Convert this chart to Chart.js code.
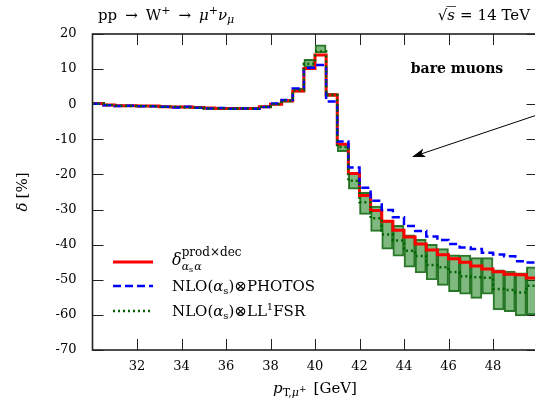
<!DOCTYPE html>
<html>
<head>
<meta charset="utf-8">
<script src="https://cdn.jsdelivr.net/npm/chart.js@4"></script>
<style>
  html, body { margin: 0; padding: 0; background: #fff; overflow: hidden; }
  #wrap { width: 535px; height: 406px; overflow: hidden; }
</style>
</head>
<body>
<div id="wrap"><canvas id="chart" width="545" height="406"></canvas></div>
<script>
// bin lower edges, p_T in GeV (bins are 0.5 GeV wide, last bin ends at 50)
const binLow = [30, 30.5, 31, 31.5, 32, 32.5, 33, 33.5, 34, 34.5,
                35, 35.5, 36, 36.5, 37, 37.5, 38, 38.5, 39, 39.5,
                40, 40.5, 41, 41.5, 42, 42.5, 43, 43.5, 44, 44.5,
                45, 45.5, 46, 46.5, 47, 47.5, 48, 48.5, 49, 49.5];
const binEnd = 50;

// delta_{as a}^{prod x dec}  (red)
const redVals = [0.2, -0.2, -0.4, -0.4, -0.5, -0.5, -0.7, -0.8, -0.8, -0.9,
                 -1.1, -1.2, -1.2, -1.2, -1.2, -0.7, 0.0, 1.0, 3.8, 10.2,
                 14.0, 2.6, -11.4, -19.7, -26.0, -30.3, -33.3, -35.9, -37.8, -39.8,
                 -41.5, -42.9, -44.0, -45.0, -46.1, -46.9, -47.7, -48.4, -48.6, -49.5];
// NLO(as) x PHOTOS  (blue dashed)
const blueVals = [0.1, -0.3, -0.5, -0.4, -0.6, -0.6, -0.7, -0.9, -0.7, -1.0,
                  -1.2, -1.1, -1.3, -1.2, -1.3, -0.8, 0.2, 1.2, 4.5, 10.4,
                  11.2, 0.8, -10.6, -18.0, -23.8, -27.5, -30.1, -32.2, -34.7, -36.1,
                  -37.7, -38.7, -39.8, -40.8, -41.2, -42.3, -42.8, -43.3, -44.7, -45.1];
// NLO(as) x LL^1 FSR  (green dotted) and its band
const greenVals = [0.2, -0.2, -0.4, -0.5, -0.5, -0.6, -0.7, -0.7, -0.9, -0.9,
                   -1.2, -1.2, -1.3, -1.2, -1.2, -0.7, 0.0, 1.0, 4.0, 11.5,
                   15.0, 2.6, -12.2, -21.8, -27.9, -32.5, -37.1, -38.8, -41.7, -43.2,
                   -45.8, -46.4, -47.8, -49.0, -49.3, -49.4, -52.6, -52.9, -53.6, -51.7];
const bandHi = [0.4, 0.0, -0.2, -0.3, -0.3, -0.4, -0.5, -0.5, -0.7, -0.7,
                -1.0, -1.0, -1.1, -1.0, -1.0, -0.5, 0.2, 1.3, 4.6, 12.8,
                16.9, 3.1, -11.1, -19.7, -25.1, -29.0, -33.2, -34.5, -37.2, -38.5,
                -39.9, -41.1, -42.9, -43.0, -43.7, -43.7, -47.2, -47.5, -48.0, -46.3];
const bandLo = [0.0, -0.4, -0.6, -0.7, -0.7, -0.8, -0.9, -0.9, -1.1, -1.1,
                -1.4, -1.4, -1.5, -1.4, -1.4, -0.9, -0.2, 0.5, 3.4, 10.5,
                14.6, 2.2, -13.5, -24.2, -31.4, -36.2, -41.3, -43.3, -46.4, -48.0,
                -50.0, -51.6, -53.4, -54.1, -55.3, -54.1, -58.6, -59.1, -60.3, -60.0];

const xTicks = [32, 34, 36, 38, 40, 42, 44, 46, 48];
const yTicks = [-70, -60, -50, -40, -30, -20, -10, 0, 10, 20];

const SERIF = '"DejaVu Serif", "Liberation Serif", serif';

// step line: one point per bin edge, last value repeated at the end
function stepData(vals) {
  const pts = binLow.map((x, i) => ({ x: x, y: vals[i] }));
  pts.push({ x: binEnd, y: vals[vals.length - 1] });
  return pts;
}
const bandData = binLow.map((x, i) => ({ x: x + 0.25, y: [bandLo[i], bandHi[i]] }));

function fontOf(r) {
  return (r.i ? 'italic ' : '') + (r.b ? 'bold ' : '') + (r.s || 15) + 'px ' + SERIF;
}
// draw a run of text pieces (for sub/superscripts)
function drawRuns(ctx, x, y, runs, align) {
  let w = 0;
  runs.forEach(r => { ctx.font = fontOf(r); w += ctx.measureText(r.t).width + (r.g || 0); });
  let cx = align === 'center' ? x - w / 2 : (align === 'right' ? x - w : x);
  ctx.textAlign = 'left';
  ctx.textBaseline = 'alphabetic';
  runs.forEach(r => {
    ctx.font = fontOf(r);
    ctx.fillText(r.t, cx, y + (r.dy || 0));
    cx += ctx.measureText(r.t).width + (r.g || 0);
  });
  return w;
}

const decor = {
  id: 'decor',
  beforeDatasetsDraw(chart) {
    const ctx = chart.ctx, a = chart.chartArea;
    const xs = chart.scales.x, ys = chart.scales.y;
    ctx.save();
    ctx.strokeStyle = '#222';
    ctx.lineWidth = 1;
    xTicks.forEach(v => {
      const px = Math.round(xs.getPixelForValue(v)) + 0.5;
      ctx.beginPath();
      ctx.moveTo(px, a.bottom); ctx.lineTo(px, a.bottom - 11);
      ctx.moveTo(px, a.top); ctx.lineTo(px, a.top + 11);
      ctx.stroke();
    });
    yTicks.forEach(v => {
      const py = Math.round(ys.getPixelForValue(v)) + 0.5;
      ctx.beginPath();
      ctx.moveTo(a.left, py); ctx.lineTo(a.left + 11, py);
      ctx.moveTo(a.right, py); ctx.lineTo(a.right - 11, py);
      ctx.stroke();
    });
    ctx.restore();
  },
  afterDraw(chart) {
    const ctx = chart.ctx, a = chart.chartArea;
    ctx.save();
    // frame
    ctx.strokeStyle = '#222';
    ctx.lineWidth = 1.6;
    ctx.strokeRect(a.left, a.top, a.right - a.left, a.bottom - a.top);

    ctx.fillStyle = '#000';
    // process label
    drawRuns(ctx, 98, 20, [
      { t: 'pp', g: 8 }, { t: '→', g: 8 }, { t: 'W' }, { t: '+', s: 11, dy: -6, g: 8 }, { t: '→', g: 8 },
      { t: 'μ', i: true }, { t: '+', s: 11, dy: -6 }, { t: 'ν', i: true }, { t: 'μ', i: true, s: 11, dy: 3 }
    ], 'left');
    // sqrt(s) = 14 TeV
    const w = drawRuns(ctx, 530, 20, [
      { t: '√' }, { t: 's', i: true, g: 5 }, { t: '=', g: 5 }, { t: '14 TeV' }
    ], 'right');
    ctx.font = fontOf({});
    const rootW = ctx.measureText('√').width;
    ctx.font = fontOf({ i: true });
    const sW = ctx.measureText('s').width;
    ctx.lineWidth = 0.8;
    ctx.beginPath();
    ctx.moveTo(530 - w + rootW - 1, 6.5); ctx.lineTo(530 - w + rootW + sW + 1, 6.5);
    ctx.stroke();

    // "bare muons"
    drawRuns(ctx, 457, 73, [{ t: 'bare muons', b: true, s: 14 }], 'center');

    // arrow
    ctx.strokeStyle = '#000';
    ctx.lineWidth = 1;
    const x0 = 540, y0 = 114, x1 = 412, y1 = 157;
    ctx.beginPath(); ctx.moveTo(x0, y0); ctx.lineTo(x1 + 8, y1 - 2.7); ctx.stroke();
    const ang = Math.atan2(y1 - y0, x1 - x0);
    ctx.beginPath();
    ctx.moveTo(x1, y1);
    ctx.lineTo(x1 - 14 * Math.cos(ang - 0.32), y1 - 14 * Math.sin(ang - 0.32));
    ctx.lineTo(x1 - 10 * Math.cos(ang), y1 - 10 * Math.sin(ang));
    ctx.lineTo(x1 - 14 * Math.cos(ang + 0.32), y1 - 14 * Math.sin(ang + 0.32));
    ctx.closePath();
    ctx.fill();

    // legend
    const lx0 = 113, lx1 = 153, tx = 172;
    const rows = [262, 286, 311];
    ctx.lineWidth = 3; ctx.strokeStyle = '#ff0000'; ctx.setLineDash([]);
    ctx.beginPath(); ctx.moveTo(lx0, rows[0]); ctx.lineTo(lx1, rows[0]); ctx.stroke();
    ctx.lineWidth = 2.5; ctx.strokeStyle = '#0000ff'; ctx.setLineDash([8, 4]);
    ctx.beginPath(); ctx.moveTo(lx0, rows[1]); ctx.lineTo(lx1, rows[1]); ctx.stroke();
    ctx.lineWidth = 2.5; ctx.strokeStyle = '#006400'; ctx.setLineDash([2, 3]);
    ctx.beginPath(); ctx.moveTo(lx0, rows[2]); ctx.lineTo(lx1, rows[2]); ctx.stroke();
    ctx.setLineDash([]);

    drawRuns(ctx, tx, rows[0] + 3, [
      { t: 'δ', i: true, s: 16 }, { t: 'prod×dec', s: 12, dy: -9 }
    ], 'left');
    ctx.font = fontOf({ i: true, s: 16 });
    const dW = ctx.measureText('δ').width;
    drawRuns(ctx, tx + dW, rows[0] + 8, [
      { t: 'α', i: true, s: 11 }, { t: 's', s: 8, dy: 2, g: 1 }, { t: 'α', i: true, s: 11 }
    ], 'left');
    drawRuns(ctx, tx, rows[1] + 5, [
      { t: 'NLO(' }, { t: 'α', i: true }, { t: 's', s: 10, dy: 3 }, { t: ')⊗PHOTOS' }
    ], 'left');
    drawRuns(ctx, tx, rows[2] + 5, [
      { t: 'NLO(' }, { t: 'α', i: true }, { t: 's', s: 10, dy: 3 }, { t: ')⊗LL' }, { t: '1', s: 10, dy: -6 }, { t: 'FSR' }
    ], 'left');

    // axis titles
    drawRuns(ctx, 315, 393, [
      { t: 'p', i: true }, { t: 'T,', s: 11, dy: 3 }, { t: 'μ', i: true, s: 11, dy: 3 }, { t: '+', s: 9, dy: -1, g: 7 },
      { t: '[GeV]' }
    ], 'center');
    ctx.translate(27, 192);
    ctx.rotate(-Math.PI / 2);
    drawRuns(ctx, 0, 0, [{ t: 'δ', i: true, g: 4 }, { t: '[%]' }], 'center');
    ctx.restore();
  }
};

new Chart(document.getElementById('chart'), {
  type: 'line',
  data: {
    datasets: [
      {
        type: 'bar',
        label: 'band',
        data: bandData,
        backgroundColor: 'rgba(0, 115, 0, 0.5)',
        borderColor: 'rgba(25, 105, 25, 0.9)',
        borderWidth: 1.3,
        borderSkipped: false,
        barPercentage: 1,
        categoryPercentage: 1,
        order: 4
      },
      {
        label: 'prod x dec',
        data: stepData(redVals),
        borderColor: '#ff0000',
        borderWidth: 3,
        stepped: true,
        pointRadius: 0,
        fill: false,
        order: 3
      },
      {
        label: 'PHOTOS',
        data: stepData(blueVals),
        borderColor: '#0000ff',
        borderWidth: 2.5,
        borderDash: [8, 4],
        stepped: true,
        pointRadius: 0,
        fill: false,
        order: 2
      },
      {
        label: 'LL1 FSR',
        data: stepData(greenVals),
        borderColor: '#006400',
        borderWidth: 2.5,
        borderDash: [2, 3],
        stepped: true,
        pointRadius: 0,
        fill: false,
        order: 1
      }
    ]
  },
  options: {
    responsive: false,
    animation: false,
    devicePixelRatio: 1,
    layout: { padding: { left: 0, top: 34, right: 7.5, bottom: 0 } },
    plugins: { legend: { display: false }, tooltip: { enabled: false } },
    scales: {
      x: {
        type: 'linear',
        min: 30,
        max: 50,
        offset: false,
        afterBuildTicks: s => { s.ticks = xTicks.map(v => ({ value: v })); },
        ticks: {
          font: { family: SERIF, size: 13 },
          color: '#000',
          padding: 9,
          maxRotation: 0,
          autoSkip: false
        },
        grid: { display: false, drawTicks: false },
        border: { display: false },
        afterFit: s => { s.height = 56; }
      },
      y: {
        min: -70,
        max: 20,
        afterBuildTicks: s => { s.ticks = yTicks.map(v => ({ value: v })); },
        ticks: {
          font: { family: SERIF, size: 13 },
          color: '#000',
          padding: 16
        },
        grid: { display: false, drawTicks: false },
        border: { display: false },
        afterFit: s => { s.width = 92.5; }
      }
    }
  },
  plugins: [decor]
});
</script>
</body>
</html>
